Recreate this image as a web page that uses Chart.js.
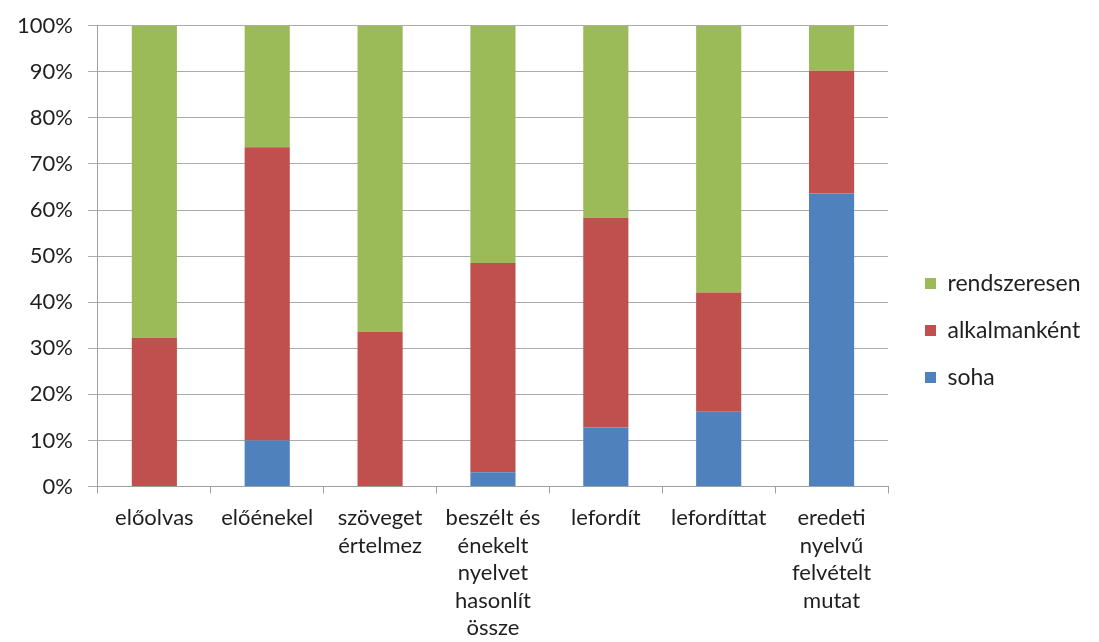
<!DOCTYPE html>
<html>
<head>
<meta charset="utf-8">
<script src="https://cdn.jsdelivr.net/npm/chart.js@4/dist/chart.umd.min.js"></script>
<style>
    body { margin: 0; background: #fff; }
    #wrap { width: 1099px; height: 642px; }
</style>
</head>
<body>
<div id="wrap"><canvas id="activityChart"></canvas></div>
<script>
var categories = [
    'előolvas',
    'előénekel',
    ['szöveget', 'értelmez'],
    ['beszélt és', 'énekelt', 'nyelvet', 'hasonlít', 'össze'],
    'lefordít',
    'lefordíttat',
    ['eredeti', 'nyelvű', 'felvételt', 'mutat']
];
var soha = [0, 10.0, 0, 3.1, 12.8, 16.2, 63.6];
var alkalmankent = [32.3, 63.6, 33.5, 45.4, 45.5, 25.9, 26.6];
var rendszeresen = [67.7, 26.4, 66.5, 51.5, 41.7, 57.9, 9.8];
var yTicks = [0, 10, 20, 30, 40, 50, 60, 70, 80, 90, 100];

var ctx = document.getElementById('activityChart').getContext('2d');

// legend on the right: fixed width so the plot ends where the original does
var legendWidth = {
    id: 'legendWidth',
    beforeLayout: function (chart) {
        var lg = chart.legend;
        if (lg && !lg._fixed) {
            var fit = lg.fit;
            lg.fit = function () {
                fit.call(this);
                this.width = 211;
            };
            lg._fixed = true;
        }
    },
    afterLayout: function (chart) {
        var lg = chart.legend;
        if (lg) {
            lg.left += 13;
            lg.right += 13;
        }
    }
};

var activityChart = new Chart(ctx, {
    type: 'bar',
    data: {
        labels: categories,
        datasets: [{
            label: 'soha',
            data: soha,
            backgroundColor: '#4F81BD'
        },
            {
                label: 'alkalmanként',
                data: alkalmankent,
                backgroundColor: '#C0504D'
            },
            {
                label: 'rendszeresen',
                data: rendszeresen,
                backgroundColor: '#9BBB59'
            }
        ]
    },
    plugins: [legendWidth],
    options: {
        responsive: true,
        maintainAspectRatio: false,
        animation: false,
        layout: {
            padding: { top: 8, right: 0, left: 2, bottom: -11 }
        },
        datasets: {
            bar: {
                barPercentage: 0.4,
                categoryPercentage: 1.0
            }
        },
        scales: {
            x: {
                stacked: true,
                grid: {
                    drawOnChartArea: false,
                    color: '#a0a0a0',
                    tickLength: 7
                },
                border: { color: '#a0a0a0' },
                ticks: {
                    color: '#1f1f1f',
                    maxRotation: 0,
                    autoSkip: false,
                    padding: 11,
                    font: { family: 'Lato, "Open Sans", sans-serif', size: 22, lineHeight: 1.25 }
                }
            },
            y: {
                stacked: true,
                min: 0,
                max: 100,
                afterBuildTicks: function (axis) {
                    axis.ticks = yTicks.map(function (v) { return { value: v }; });
                },
                grid: {
                    color: '#ababab',
                    tickLength: 10
                },
                border: { color: '#a0a0a0' },
                ticks: {
                    color: '#1f1f1f',
                    padding: 15,
                    callback: function (v) { return v + '%'; },
                    font: { family: 'Lato, "Open Sans", sans-serif', size: 22, lineHeight: 0.97 }
                }
            }
        },
        plugins: {
            tooltip: { enabled: false },
            legend: {
                position: 'right',
                reverse: true,
                labels: {
                    color: '#1f1f1f',
                    boxWidth: 11,
                    boxHeight: 11,
                    padding: 24,
                    font: { family: 'Lato, "Open Sans", sans-serif', size: 23 }
                }
            }
        }
    }
});
</script>
</body>
</html>
